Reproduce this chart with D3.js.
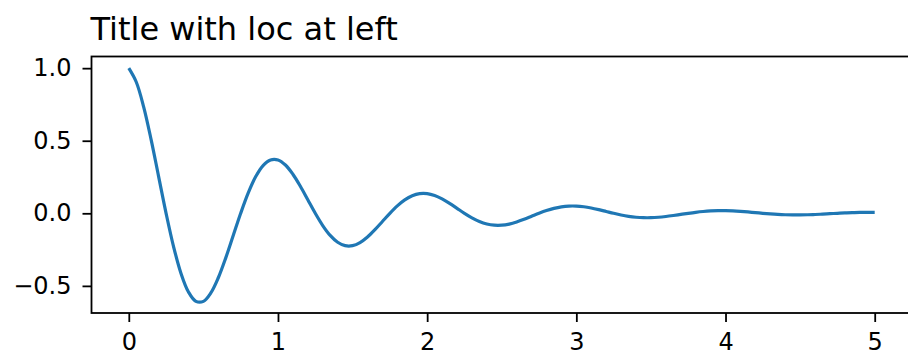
<!DOCTYPE html>
<html>
<head>
<meta charset="utf-8">
<script src="https://cdn.jsdelivr.net/npm/d3@7"></script>
<style>
  html, body { margin: 0; padding: 0; background: #fff; }
  svg { display: block; }
  text { font-family: "DejaVu Sans", sans-serif; fill: #000; }
</style>
</head>
<body>
<svg id="chart" width="908" height="356"></svg>
<script>
const xValues = [0.00,0.05,0.10,0.15,0.20,0.25,0.30,0.35,0.40,0.45,
                 0.50,0.55,0.60,0.65,0.70,0.75,0.80,0.85,0.90,0.95,
                 1.00,1.05,1.10,1.15,1.20,1.25,1.30,1.35,1.40,1.45,
                 1.50,1.55,1.60,1.65,1.70,1.75,1.80,1.85,1.90,1.95,
                 2.00,2.05,2.10,2.15,2.20,2.25,2.30,2.35,2.40,2.45,
                 2.50,2.55,2.60,2.65,2.70,2.75,2.80,2.85,2.90,2.95,
                 3.00,3.05,3.10,3.15,3.20,3.25,3.30,3.35,3.40,3.45,
                 3.50,3.55,3.60,3.65,3.70,3.75,3.80,3.85,3.90,3.95,
                 4.00,4.05,4.10,4.15,4.20,4.25,4.30,4.35,4.40,4.45,
                 4.50,4.55,4.60,4.65,4.70,4.75,4.80,4.85,4.90,4.95,5.00];
const yValues = [1.0, 0.90467, 0.73203, 0.50591, 0.25300, 0.0, -0.22893, -0.41421, -0.54230, -0.60642,
                 -0.60653, -0.54871, -0.44400, -0.30685, -0.15345, 0.0, 0.13885, 0.25123, 0.32892, 0.36781,
                 0.36788, 0.33281, 0.26930, 0.18611, 0.09307, 0.0, -0.08422, -0.15238, -0.19950, -0.22309,
                 -0.22313, -0.20186, -0.16334, -0.11288, -0.05645, 0.0, 0.05108, 0.09242, 0.12100, 0.13531,
                 0.13534, 0.12243, 0.09907, 0.06847, 0.03424, 0.0, -0.03098, -0.05606, -0.07339, -0.08207,
                 -0.08209, -0.07426, -0.06009, -0.04153, -0.02077, 0.0, 0.01879, 0.03400, 0.04451, 0.04978,
                 0.04979, 0.04504, 0.03645, 0.02519, 0.01260, 0.0, -0.01140, -0.02062, -0.02700, -0.03019,
                 -0.03020, -0.02732, -0.02211, -0.01528, -0.00764, 0.0, 0.00691, 0.01251, 0.01637, 0.01831,
                 0.01832, 0.01657, 0.01341, 0.00927, 0.00463, 0.0, -0.00419, -0.00759, -0.00993, -0.01111,
                 -0.01111, -0.01005, -0.00813, -0.00562, -0.00281, 0.0, 0.00254, 0.00460, 0.00602, 0.00674,
                 0.00674];
const xTicks = [0, 1, 2, 3, 4, 5];
const xTickLabels = ["0", "1", "2", "3", "4", "5"];
const yTicks = [-0.5, 0.0, 0.5, 1.0];
const yTickLabels = ["\u22120.5", "0.0", "0.5", "1.0"];
const titleText = "Title with loc at left";

const svg = d3.select("#chart");
const plotLeft = 91.5, plotRight = 912, plotTop = 56.5, plotBottom = 313;

// matplotlib-like 5% margins
const xMin = d3.min(xValues), xMax = d3.max(xValues);
const yMin = d3.min(yValues), yMax = d3.max(yValues);
const xPad = (xMax - xMin) * 0.05, yPad = (yMax - yMin) * 0.05;

const x = d3.scaleLinear().domain([xMin - xPad, xMax + xPad]).range([plotLeft, plotRight]);
const y = d3.scaleLinear().domain([yMin - yPad, yMax + yPad]).range([plotBottom, plotTop]);

const tickLen = 9;
const fontSize = 24;

// x axis
const xAxis = d3.axisBottom(x).tickValues(xTicks)
  .tickFormat((d, i) => xTickLabels[i]).tickSize(tickLen).tickPadding(11);
const gx = svg.append("g").attr("transform", `translate(0,${plotBottom})`).call(xAxis);
gx.select(".domain").remove();
gx.selectAll(".tick line").attr("stroke", "#000").attr("stroke-width", 1.8);
gx.selectAll(".tick text").attr("font-size", fontSize).attr("font-family", "DejaVu Sans").attr("fill", "#000");

// y axis
const yAxis = d3.axisLeft(y).tickValues(yTicks)
  .tickFormat((d, i) => yTickLabels[i]).tickSize(tickLen).tickPadding(11);
const gy = svg.append("g").attr("transform", `translate(${plotLeft},0)`).call(yAxis);
gy.select(".domain").remove();
gy.selectAll(".tick line").attr("stroke", "#000").attr("stroke-width", 1.8);
gy.selectAll(".tick text").attr("font-size", fontSize).attr("font-family", "DejaVu Sans").attr("fill", "#000");

// line
const line = d3.line()
  .x((d, i) => x(xValues[i]))
  .y(d => y(d))
  .curve(d3.curveCatmullRom.alpha(0.5));
svg.append("path").datum(yValues)
  .attr("d", line)
  .attr("fill", "none")
  .attr("stroke", "#1f77b4")
  .attr("stroke-width", 3.2)
  .attr("stroke-linejoin", "round")
  .attr("stroke-linecap", "butt");

// spines
svg.append("rect")
  .attr("x", plotLeft).attr("y", plotTop)
  .attr("width", plotRight - plotLeft).attr("height", plotBottom - plotTop)
  .attr("fill", "none").attr("stroke", "#000").attr("stroke-width", 1.8);

// title
svg.append("text")
  .attr("x", plotLeft - 1).attr("y", 39.5)
  .attr("font-size", 32)
  .attr("text-anchor", "start")
  .text(titleText);
</script>
</body>
</html>
